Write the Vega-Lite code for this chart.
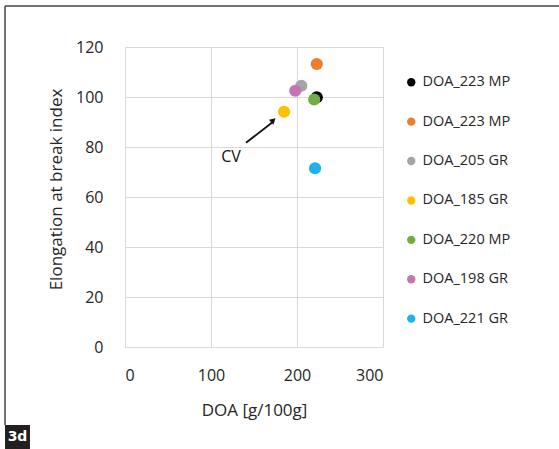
{
  "$schema": "https://vega.github.io/schema/vega-lite/v6.json",
  "autosize": "none",
  "width": 258,
  "height": 300,
  "padding": {"left": 125, "top": 47, "right": 176, "bottom": 102},
  "background": "white",
  "config": {"view": {"stroke": null}, "font": "Open Sans"},
  "datasets": {
    "pts": [
      {"key": "s1", "label": "DOA_223 MP", "doa": 223, "elong": 99.9},
      {"key": "s2", "label": "DOA_223 MP", "doa": 223, "elong": 113.2},
      {"key": "s3", "label": "DOA_205 GR", "doa": 205, "elong": 104.5},
      {"key": "s4", "label": "DOA_185 GR", "doa": 185, "elong": 94.1},
      {"key": "s5", "label": "DOA_220 MP", "doa": 220, "elong": 99.0},
      {"key": "s6", "label": "DOA_198 GR", "doa": 198, "elong": 102.5},
      {"key": "s7", "label": "DOA_221 GR", "doa": 221, "elong": 71.5}
    ],
    "arrow": [{"x1": 140.7, "y1": 81.7, "x2": 171.5, "y2": 89.9, "hx": 172.5, "hy": 90.7}],
    "cv": [{"x": 123.3, "y": 76.1, "t": "CV"}],
    "frame": [
      {"x1": -139.5, "y1": 136.4, "x2": 510, "y2": 136.4},
      {"x1": -139.5, "y1": 136.4, "x2": -139.5, "y2": -31.2}
    ],
    "tag": [{"x1": -139.5, "x2": -110.5, "y1": -31.2, "y2": -41, "xm": -125, "ym": -36.1, "t": "3d"}]
  },
  "layer": [
    {
      "data": {"name": "pts"},
      "mark": {"type": "point", "filled": true, "opacity": 1, "size": 150},
      "encoding": {
        "x": {
          "field": "doa", "type": "quantitative",
          "scale": {"domain": [0, 300], "nice": false},
          "axis": {
            "values": [0, 100, 200, 300], "title": "DOA [g/100g]", "ticks": false,
            "labelPadding": 20, "labelFontSize": 16, "labelColor": "#262626",
            "titleFontSize": 17, "titleFontWeight": "normal", "titleColor": "#262626", "titlePadding": 19,
            "grid": true, "gridColor": "#d9d9d9", "domainColor": "#d9d9d9"
          }
        },
        "y": {
          "field": "elong", "type": "quantitative",
          "scale": {"domain": [0, 120], "nice": false},
          "axis": {
            "values": [0, 20, 40, 60, 80, 100, 120], "title": "Elongation at break index", "ticks": false,
            "labelPadding": 22, "labelFontSize": 16, "labelColor": "#262626",
            "titleFontSize": 17, "titleFontWeight": "normal", "titleColor": "#262626", "titlePadding": 10,
            "titleY": 142,
            "grid": true, "gridColor": "#d9d9d9", "domainColor": "#d9d9d9"
          }
        },
        "color": {
          "field": "key", "type": "nominal",
          "scale": {
            "domain": ["s1", "s2", "s3", "s4", "s5", "s6", "s7"],
            "range": ["#000000", "#ED7D31", "#A5A5A5", "#FFC000", "#70AD47", "#C774B2", "#1EB1EC"]
          },
          "legend": {
            "orient": "none", "legendX": 279, "legendY": 28, "title": null,
            "padding": 0, "symbolType": "circle", "symbolSize": 70, "rowPadding": 24.4,
            "labelFontSize": 14.5, "labelColor": "#262626", "labelOffset": 4,
            "labelExpr": "{'s1':'DOA_223 MP','s2':'DOA_223 MP','s3':'DOA_205 GR','s4':'DOA_185 GR','s5':'DOA_220 MP','s6':'DOA_198 GR','s7':'DOA_221 GR'}[datum.value]"
          }
        }
      }
    },
    {
      "data": {"name": "arrow"},
      "mark": {"type": "rule", "color": "#111111", "strokeWidth": 1.8},
      "encoding": {
        "x": {"field": "x1", "type": "quantitative"},
        "y": {"field": "y1", "type": "quantitative"},
        "x2": {"field": "x2"},
        "y2": {"field": "y2"}
      }
    },
    {
      "data": {"name": "arrow"},
      "mark": {"type": "point", "shape": "triangle-up", "filled": true, "color": "#111111", "opacity": 1, "size": 45, "angle": 48.5},
      "encoding": {
        "x": {"field": "hx", "type": "quantitative"},
        "y": {"field": "hy", "type": "quantitative"}
      }
    },
    {
      "data": {"name": "cv"},
      "mark": {"type": "text", "fontSize": 16, "color": "#111111"},
      "encoding": {
        "x": {"field": "x", "type": "quantitative"},
        "y": {"field": "y", "type": "quantitative"},
        "text": {"field": "t"}
      }
    },
    {
      "data": {"name": "frame"},
      "mark": {"type": "rule", "color": "#444444", "strokeWidth": 1.5, "clip": false},
      "encoding": {
        "x": {"field": "x1", "type": "quantitative"},
        "y": {"field": "y1", "type": "quantitative"},
        "x2": {"field": "x2"},
        "y2": {"field": "y2"}
      }
    },
    {
      "data": {"name": "tag"},
      "mark": {"type": "rect", "color": "#231f20", "clip": false},
      "encoding": {
        "x": {"field": "x1", "type": "quantitative"},
        "x2": {"field": "x2"},
        "y": {"field": "y1", "type": "quantitative"},
        "y2": {"field": "y2"}
      }
    },
    {
      "data": {"name": "tag"},
      "mark": {"type": "text", "color": "white", "fontSize": 14, "fontWeight": "bold", "font": "DejaVu Sans", "clip": false},
      "encoding": {
        "x": {"field": "xm", "type": "quantitative"},
        "y": {"field": "ym", "type": "quantitative"},
        "text": {"field": "t"}
      }
    }
  ]
}
